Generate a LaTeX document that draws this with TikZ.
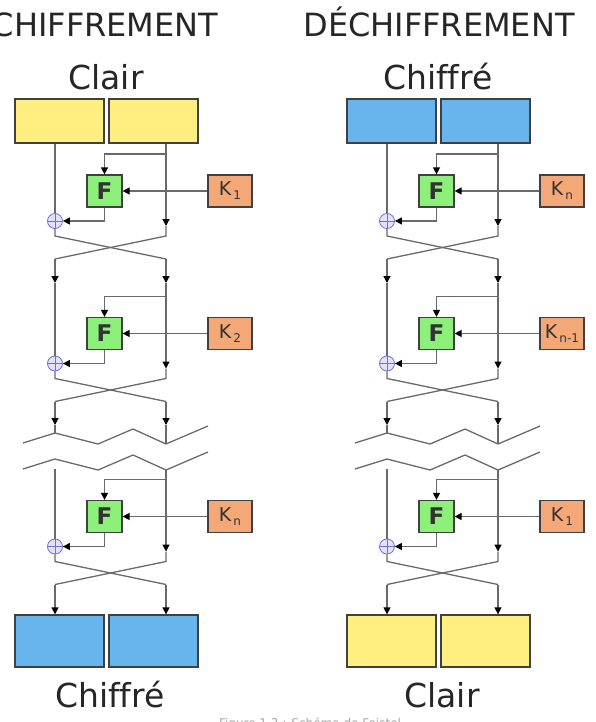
\documentclass[tikz,border=0pt]{standalone}
\usepackage{fontspec}
\setmainfont{DejaVu Sans}[Ligatures=NoCommon]
\usetikzlibrary{arrows.meta}
\definecolor{yel}{HTML}{FFEF80}
\definecolor{blu}{HTML}{68B4EC}
\definecolor{grn}{HTML}{8CF07A}
\definecolor{org}{HTML}{F5A877}
\definecolor{wirec}{HTML}{6A6A6A}
\definecolor{boxline}{HTML}{404040}
\definecolor{xorc}{HTML}{7070D0}
\definecolor{xorf}{HTML}{E2E2FF}
\newcommand\Ksub[1]{K\raisebox{-4pt}{\fontsize{12}{12}\selectfont\,#1}}
\newcommand\feistround[3]{%
  \node[fbox] (f#1) at (104.5,#2) {F};
  \node[kbox] (k#1) at (230,#2) {#3};
  \node[xorn] (x#1) at (55,#2+30) {};
  \coordinate (b#1) at (166,#2-37);
  \coordinate (ra#1) at (166,#2+35);
  \coordinate (rc#1) at (166,#2+45);
  \coordinate (lc#1) at (55,#2+45);
  \coordinate (le#1) at (55,#2+68);
  \coordinate (re#1) at (166,#2+68);
  \draw[arr] (b#1) -| (f#1.north);
  \draw[arr] (k#1.west) -- (f#1.east);
  \draw[arr] (f#1.south) |- (x#1.east);
  \draw[wire] (ra#1) -- (rc#1) -- (le#1);
  \draw[wire] (x#1.south) -- (lc#1) -- (re#1);
}
\newcommand\feistcol[9]{%
  \begin{scope}[xshift=#1pt, name prefix=#2-]
    \node[half, fill=#3] (t1) at (59.5,121) {};
    \node[half, fill=#3] (t2) at (153.5,121) {};
    \feistround{1}{191}{#5}
    \feistround{2}{333.5}{#6}
    \feistround{3}{516.5}{#7}
    \node[halfb, fill=#4] (o1) at (59.5,641) {};
    \node[halfb, fill=#4] (o2) at (153.5,641) {};
    % round 1 inputs
    \draw[wire] (t1.south -| x1) -- (x1.north);
    \draw[arr] (t2.south -| b1) -- (ra1);
    % round 2 inputs
    \coordinate (li2) at (55,283);
    \coordinate (ri2) at (166,283);
    \draw[arr] (le1) -- (li2);
    \draw[wire] (li2) -- (x2.north);
    \draw[arr] (re1) -- (ri2);
    \draw[arr] (ri2) -- (ra2);
    % towards break
    \coordinate (z1a) at (23,443);
    \coordinate (z1b) at (55,433);
    \coordinate (z1c) at (98,444);
    \coordinate (z1d) at (133,429);
    \coordinate (z1e) at (166,444);
    \coordinate (z1f) at (208,426);
    \coordinate (z2a) at (23,469);
    \coordinate (z2b) at (55,459);
    \coordinate (z2c) at (98,470);
    \coordinate (z2d) at (133,455);
    \coordinate (z2e) at (166,470);
    \coordinate (z2f) at (208,452);
    \coordinate (lo2) at (55,425);
    \coordinate (ro2) at (166,425);
    \draw[arr] (le2) -- (lo2);
    \draw[wire] (lo2) -- (z1b);
    \draw[arr] (re2) -- (ro2);
    \draw[wire] (ro2) -- (z1e);
    \draw[wire] (z1a) -- (z1b) -- (z1c) -- (z1d) -- (z1e) -- (z1f);
    \draw[wire] (z2a) -- (z2b) -- (z2c) -- (z2d) -- (z2e) -- (z2f);
    % round 3 inputs
    \coordinate (l3s) at (55,469);
    \draw[wire] (l3s) -- (x3.north);
    \draw[arr] (z2e) -- (ra3);
    % outputs
    \draw[arr] (le3) -- (o1.north -| le3);
    \draw[arr] (re3) -- (o2.north -| re3);
  \end{scope}
  \node[lab] (#2-top) at (#1+106,90) {#8};
  \node[lab] (#2-bot) at (#1+110,707) {#9};
}
\begin{document}
\begin{tikzpicture}[x=1pt,y=-1pt,
  wire/.style={draw=wirec, line width=1.3pt},
  arr/.style={wire, -{Triangle[length=7pt,width=7pt,color=black]}},
  half/.style={draw=boxline, line width=1.3pt, minimum height=44pt, minimum width=89pt, inner sep=0pt},
  halfb/.style={half, minimum height=52pt},
  fbox/.style={draw=boxline, line width=1.2pt, fill=grn, minimum width=35pt, minimum height=32pt, inner sep=0pt, font=\fontsize{23}{23}\selectfont\bfseries, text=black!80},
  kbox/.style={draw=boxline, line width=1.2pt, fill=org, minimum width=44pt, minimum height=32pt, inner sep=0pt, font=\fontsize{19}{19}\selectfont, text=black!80},
  xorn/.style={circle, draw=xorc, line width=0.8pt, fill=xorf, minimum size=15pt, inner sep=0pt,
    path picture={\draw[xorc, line width=0.8pt] (path picture bounding box.north) -- (path picture bounding box.south) (path picture bounding box.west) -- (path picture bounding box.east);}},
  lab/.style={anchor=base, inner sep=0pt, font=\fontsize{33}{33}\selectfont, text=black!85},
  head/.style={anchor=base, inner sep=0pt, font=\fontsize{32}{32}\selectfont, text=black!85},
]
\useasboundingbox (0,0) rectangle (596,722);
\fill[white] (0,0) rectangle (596,722);
\node[head] (h1) at (105,37) {CHIFFREMENT};
\node[head] (h2) at (439,37) {DÉCHIFFREMENT};
\feistcol{0}{E}{yel}{blu}{\Ksub{1}}{\Ksub{2}}{\Ksub{n}}{Clair}{Chiffré}
\feistcol{332}{D}{blu}{yel}{\Ksub{n}}{\Ksub{n-1}}{\Ksub{1}}{Chiffré}{Clair}
\node[anchor=base, inner sep=0pt, text=black!35, font=\fontsize{12}{12}\selectfont] (cap) at (310,727) {Figure 1.3 : Schéma de Feistel};
\end{tikzpicture}
\end{document}
